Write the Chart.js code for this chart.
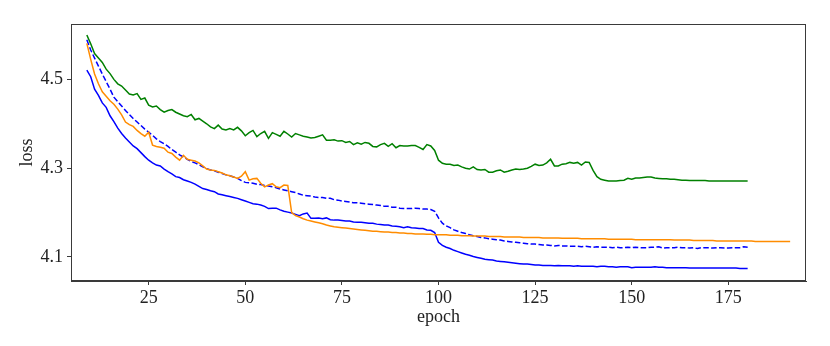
<!DOCTYPE html>
<html>
<head>
<meta charset="utf-8">
<script src="https://cdn.jsdelivr.net/npm/chart.js@4/dist/chart.umd.min.js"></script>
<style>
  html, body { margin: 0; padding: 0; background: #fff; }
  #wrap { width: 830px; height: 346px; }
</style>
</head>
<body>
<div id="wrap"><canvas id="lossChart"></canvas></div>
<script>

// DATA ########################################################################

var epochs = [];
for (var e = 9; e <= 191; e++) { epochs.push(e); }

var xTicks = [25, 50, 75, 100, 125, 150, 175];
var yTicks = [4.1, 4.3, 4.5];

// epochs 9..180
var greenLoss = [
    4.600, 4.580, 4.558, 4.548, 4.538, 4.523, 4.513, 4.500, 4.490, 4.485,
    4.476, 4.467, 4.465, 4.468, 4.455, 4.458, 4.442, 4.438, 4.440, 4.432,
    4.426, 4.430, 4.432, 4.426, 4.422, 4.418, 4.416, 4.421, 4.409, 4.412,
    4.406, 4.400, 4.393, 4.389, 4.397, 4.388, 4.386, 4.389, 4.386, 4.392,
    4.384, 4.373, 4.380, 4.385, 4.371, 4.378, 4.383, 4.367, 4.380, 4.376,
    4.372, 4.383, 4.377, 4.370, 4.378, 4.375, 4.372, 4.370, 4.368, 4.369,
    4.372, 4.375, 4.363, 4.363, 4.364, 4.361, 4.362, 4.358, 4.360, 4.353,
    4.357, 4.354, 4.358, 4.356, 4.349, 4.348, 4.353, 4.356, 4.349, 4.355,
    4.346, 4.351, 4.350, 4.350, 4.351, 4.351, 4.347, 4.342, 4.353, 4.350,
    4.340, 4.318, 4.311, 4.309, 4.309, 4.306, 4.307, 4.303, 4.300, 4.298,
    4.303, 4.297, 4.296, 4.297, 4.291, 4.291, 4.294, 4.296, 4.291, 4.293,
    4.296, 4.298, 4.297, 4.298, 4.300, 4.304, 4.309, 4.306, 4.307, 4.312,
    4.320, 4.305, 4.305, 4.309, 4.310, 4.313, 4.311, 4.313, 4.307, 4.314,
    4.313, 4.295, 4.281, 4.275, 4.273, 4.271, 4.271, 4.271, 4.272, 4.273,
    4.277, 4.275, 4.278, 4.278, 4.279, 4.280, 4.280, 4.278, 4.277, 4.276,
    4.276, 4.275, 4.275, 4.274, 4.273, 4.273, 4.272, 4.272, 4.272, 4.272,
    4.272, 4.271, 4.271, 4.271, 4.271, 4.271, 4.271, 4.271, 4.271, 4.271,
    4.271, 4.271
];

// epochs 9..191
var orangeLoss = [
    4.581, 4.545, 4.512, 4.490, 4.472, 4.462, 4.452, 4.444, 4.433, 4.420,
    4.404, 4.398, 4.394, 4.385, 4.378, 4.372, 4.381, 4.352, 4.349, 4.347,
    4.345, 4.336, 4.333, 4.325, 4.318, 4.329, 4.320, 4.318, 4.316, 4.312,
    4.305, 4.298, 4.296, 4.295, 4.292, 4.289, 4.285, 4.283, 4.280, 4.277,
    4.282, 4.292, 4.273, 4.276, 4.277, 4.266, 4.258, 4.262, 4.265, 4.258,
    4.256, 4.262, 4.261, 4.200, 4.193, 4.190, 4.186, 4.183, 4.181, 4.179,
    4.177, 4.175, 4.172, 4.170, 4.168, 4.167, 4.166, 4.165, 4.164, 4.163,
    4.162, 4.161, 4.160, 4.159, 4.158, 4.158, 4.157, 4.156, 4.156, 4.155,
    4.155, 4.154, 4.154, 4.153, 4.153, 4.152, 4.152, 4.152, 4.151, 4.151,
    4.150, 4.150, 4.150, 4.150, 4.149, 4.149, 4.149, 4.148, 4.148, 4.148,
    4.147, 4.147, 4.147, 4.147, 4.146, 4.146, 4.146, 4.146, 4.145, 4.145,
    4.145, 4.145, 4.145, 4.144, 4.144, 4.144, 4.144, 4.144, 4.143, 4.143,
    4.143, 4.143, 4.143, 4.142, 4.142, 4.142, 4.142, 4.142, 4.141, 4.141,
    4.141, 4.141, 4.141, 4.141, 4.141, 4.140, 4.140, 4.140, 4.140, 4.140,
    4.140, 4.140, 4.139, 4.139, 4.139, 4.139, 4.139, 4.139, 4.139, 4.139,
    4.139, 4.139, 4.138, 4.138, 4.138, 4.138, 4.138, 4.137, 4.137, 4.137,
    4.137, 4.137, 4.137, 4.136, 4.136, 4.136, 4.136, 4.136, 4.136, 4.136,
    4.136, 4.136, 4.136, 4.135, 4.135, 4.135, 4.135, 4.135, 4.135, 4.135,
    4.135, 4.135, 4.135
];

// epochs 9..180
var blueDashedLoss = [
    4.589, 4.566, 4.548, 4.530, 4.512, 4.495, 4.478, 4.460, 4.450, 4.440,
    4.430, 4.421, 4.412, 4.404, 4.396, 4.388, 4.381, 4.374, 4.366, 4.360,
    4.355, 4.349, 4.342, 4.336, 4.330, 4.325, 4.320, 4.315, 4.312, 4.308,
    4.303, 4.299, 4.296, 4.294, 4.291, 4.288, 4.285, 4.283, 4.280, 4.277,
    4.272, 4.268, 4.267, 4.266, 4.264, 4.263, 4.261, 4.260, 4.258, 4.256,
    4.253, 4.251, 4.249, 4.247, 4.245, 4.242, 4.239, 4.238, 4.237, 4.235,
    4.234, 4.234, 4.232, 4.232, 4.229, 4.228, 4.226, 4.225, 4.224, 4.222,
    4.222, 4.221, 4.220, 4.219, 4.218, 4.217, 4.216, 4.214, 4.214, 4.212,
    4.212, 4.210, 4.209, 4.209, 4.209, 4.210, 4.209, 4.208, 4.208, 4.207,
    4.203, 4.188, 4.176, 4.170, 4.166, 4.161, 4.158, 4.155, 4.153, 4.150,
    4.148, 4.146, 4.144, 4.143, 4.141, 4.140, 4.139, 4.138, 4.136, 4.135,
    4.134, 4.133, 4.132, 4.131, 4.130, 4.129, 4.129, 4.128, 4.127, 4.127,
    4.126, 4.125, 4.126, 4.125, 4.125, 4.124, 4.124, 4.124, 4.123, 4.124,
    4.123, 4.122, 4.123, 4.122, 4.122, 4.122, 4.121, 4.122, 4.121, 4.121,
    4.122, 4.121, 4.122, 4.121, 4.121, 4.121, 4.122, 4.122, 4.123, 4.120,
    4.121, 4.121, 4.121, 4.122, 4.121, 4.121, 4.120, 4.121, 4.119, 4.121,
    4.121, 4.121, 4.120, 4.121, 4.121, 4.120, 4.120, 4.121, 4.121, 4.121,
    4.123, 4.122
];

// epochs 9..180
var blueLoss = [
    4.521, 4.506, 4.478, 4.464, 4.447, 4.437, 4.418, 4.405, 4.390, 4.378,
    4.368, 4.359, 4.350, 4.344, 4.335, 4.326, 4.318, 4.312, 4.307, 4.305,
    4.298, 4.292, 4.287, 4.281, 4.279, 4.274, 4.271, 4.268, 4.264, 4.259,
    4.254, 4.252, 4.249, 4.247, 4.242, 4.240, 4.238, 4.236, 4.234, 4.232,
    4.229, 4.226, 4.223, 4.220, 4.219, 4.217, 4.214, 4.209, 4.210, 4.210,
    4.206, 4.203, 4.201, 4.199, 4.196, 4.193, 4.197, 4.199, 4.187, 4.187,
    4.188, 4.186, 4.188, 4.184, 4.183, 4.183, 4.182, 4.181, 4.181, 4.179,
    4.178, 4.178, 4.177, 4.176, 4.176, 4.174, 4.173, 4.172, 4.172, 4.170,
    4.169, 4.168, 4.166, 4.168, 4.166, 4.165, 4.164, 4.164, 4.161, 4.160,
    4.155, 4.133, 4.126, 4.122, 4.119, 4.115, 4.112, 4.109, 4.106, 4.104,
    4.101, 4.099, 4.097, 4.095, 4.094, 4.093, 4.091, 4.090, 4.089, 4.088,
    4.087, 4.086, 4.085, 4.084, 4.084, 4.083, 4.082, 4.082, 4.081, 4.081,
    4.081, 4.080, 4.081, 4.080, 4.080, 4.080, 4.079, 4.080, 4.079, 4.079,
    4.079, 4.079, 4.078, 4.079, 4.079, 4.078, 4.078, 4.077, 4.078, 4.078,
    4.078, 4.076, 4.077, 4.077, 4.077, 4.077, 4.077, 4.078, 4.077, 4.077,
    4.076, 4.076, 4.076, 4.076, 4.076, 4.076, 4.075, 4.075, 4.075, 4.075,
    4.075, 4.075, 4.075, 4.075, 4.075, 4.075, 4.075, 4.075, 4.075, 4.074,
    4.074, 4.074
];

function toPoints(values) {
    return values.map(function (v, i) { return {x: epochs[i], y: v}; });
}

// CHART #######################################################################

var FONT = "'Liberation Serif', 'DejaVu Serif', serif";
var AXIS_COLOR = "#3a3a3a";

// matplotlib-style top and right spines
var frame = {
    id: "frame",
    afterDraw: function (chart) {
        var a = chart.chartArea;
        var ctx = chart.ctx;
        ctx.save();
        ctx.strokeStyle = AXIS_COLOR;
        ctx.lineWidth = 1;
        ctx.strokeRect(a.left + 0.5, a.top + 0.5, a.right - a.left - 1, a.bottom - a.top - 1);
        ctx.restore();
    }
};

function lineSet(label, values, color, dash) {
    return {
        label: label,
        data: toPoints(values),
        borderColor: color,
        backgroundColor: color,
        borderWidth: 1.5,
        borderDash: dash || [],
        pointRadius: 0,
        tension: 0,
        fill: false
    };
}

var ctx = document.getElementById("lossChart");
var lossChart = new Chart(ctx, {
    type: "line",
    data: {
        datasets: [
            lineSet("green", greenLoss, "#008000"),
            lineSet("orange", orangeLoss, "#ff8c00"),
            lineSet("blue dashed", blueDashedLoss, "#0000ff", [5.5, 2.4]),
            lineSet("blue", blueLoss, "#0000ff")
        ]
    },
    options: {
        responsive: true,
        maintainAspectRatio: false,
        animation: false,
        layout: { padding: { top: 24, right: 24, bottom: 0, left: 0 } },
        plugins: {
            legend: { display: false },
            tooltip: { enabled: false }
        },
        scales: {
            x: {
                type: "linear",
                min: 4.9,
                max: 195.1,
                afterBuildTicks: function (axis) {
                    axis.ticks = xTicks.map(function (v) { return {value: v}; });
                },
                afterFit: function (axis) { axis.height = 65; },
                grid: { drawOnChartArea: false, tickLength: 4, tickColor: AXIS_COLOR },
                border: { color: AXIS_COLOR, width: 1 },
                ticks: {
                    color: "#222",
                    padding: 2,
                    maxRotation: 0,
                    font: { family: FONT, size: 18 },
                    callback: function (v) { return String(v); }
                },
                title: {
                    display: true,
                    text: "epoch",
                    color: "#222",
                    font: { family: FONT, size: 18 },
                    padding: { top: 0, bottom: 18 }
                }
            },
            y: {
                min: 4.0459,
                max: 4.6247,
                afterBuildTicks: function (axis) {
                    axis.ticks = yTicks.map(function (v) { return {value: v}; });
                },
                afterFit: function (axis) { axis.width = 71; },
                grid: { drawOnChartArea: false, tickLength: 4, tickColor: AXIS_COLOR },
                border: { color: AXIS_COLOR, width: 1 },
                ticks: {
                    color: "#222",
                    padding: 4,
                    font: { family: FONT, size: 18 },
                    callback: function (v) { return v.toFixed(1); }
                },
                title: {
                    display: true,
                    text: "loss",
                    color: "#222",
                    font: { family: FONT, size: 18 },
                    padding: { top: 16, bottom: 0 }
                }
            }
        }
    },
    plugins: [frame]
});
</script>
</body>
</html>
